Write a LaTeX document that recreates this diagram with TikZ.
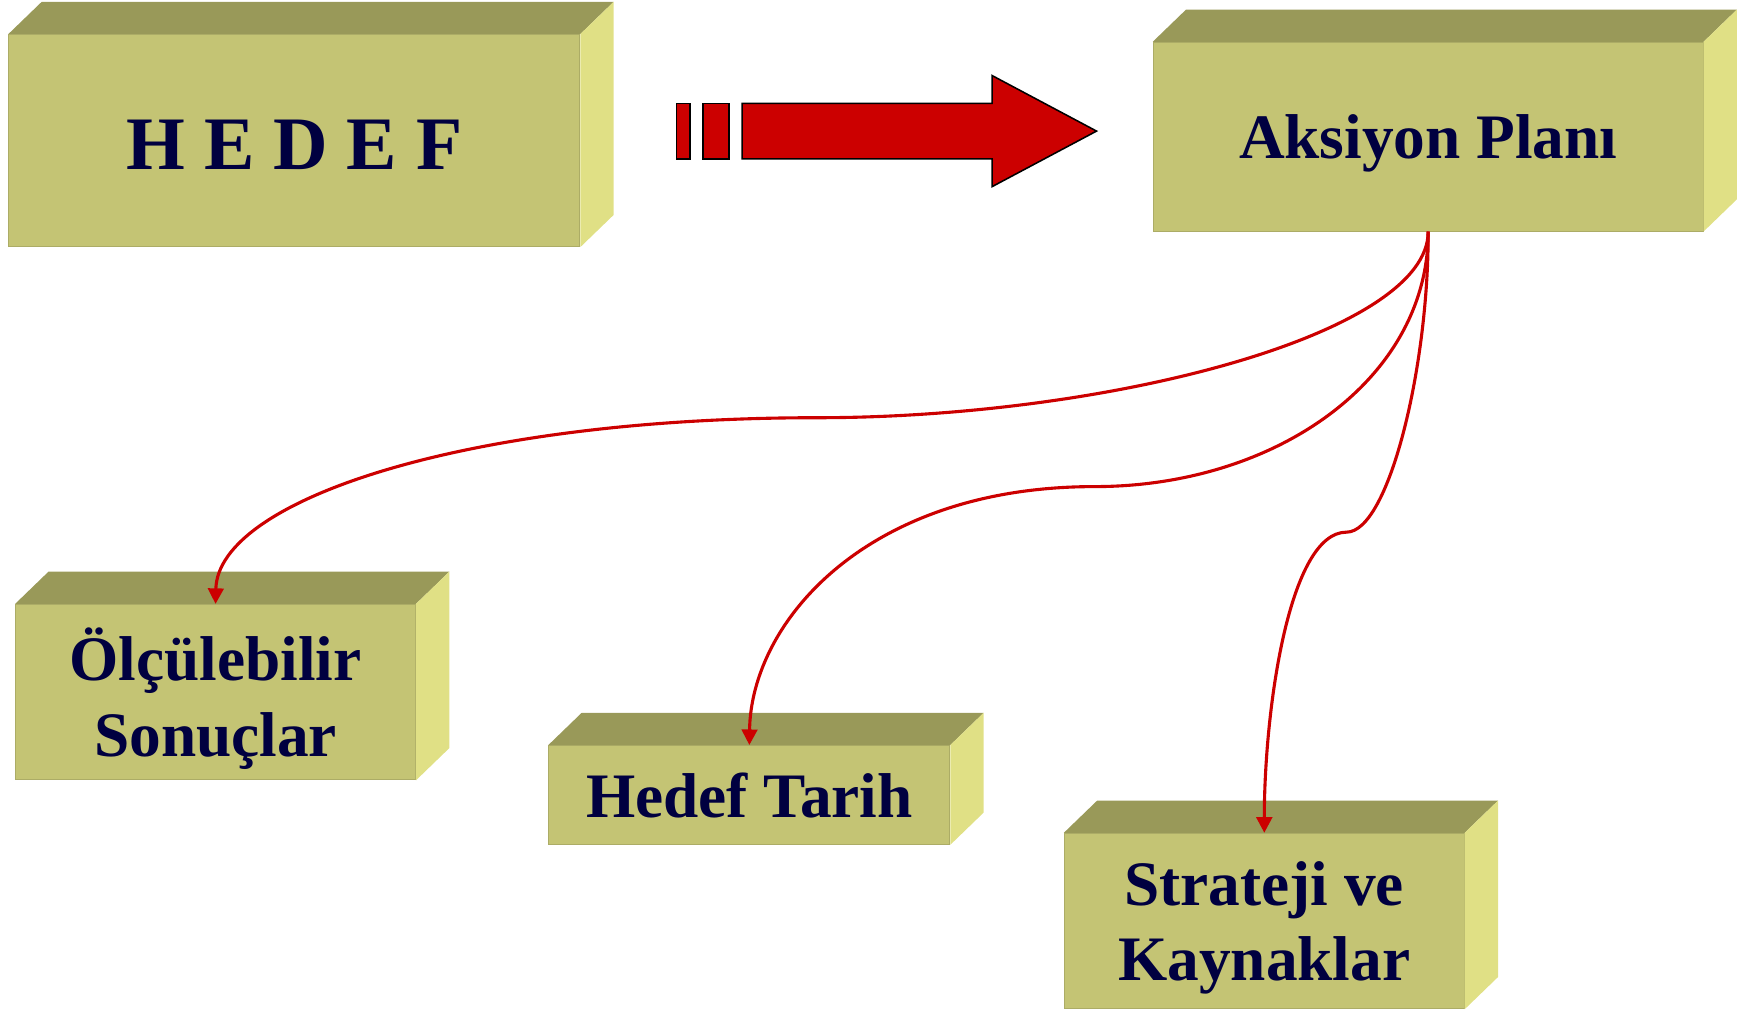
\documentclass[tikz,border=0pt]{standalone}
\usepackage{fontspec}
\setmainfont{Liberation Serif}
\usetikzlibrary{arrows.meta}
\definecolor{frontc}{RGB}{196,196,116}
\definecolor{topc}{RGB}{153,153,89}
\definecolor{sidec}{RGB}{224,224,133}
\definecolor{navy}{RGB}{0,0,64}
\definecolor{bigred}{RGB}{204,0,0}
\tikzset{
  frontbox/.style={fill=frontc, draw=frontc!88!black, line width=0.8pt, inner sep=0pt,
    text=navy, align=center, font=\bfseries\fontsize{57}{68}\selectfont},
  topface/.style={fill=topc},
  sideface/.style={fill=sidec},
  link/.style={draw=bigred, line width=2.8pt, -{Triangle[length=14pt,width=14pt]}},
  bigarrow/.style={fill=bigred, draw=black, line width=1.4pt, line join=miter}
}
\newcommand\cubefaces[1]{%
  \fill[topface] (#1.north west) -- ++(30,-29) -- ([shift={(30,-29)}]#1.north east) -- (#1.north east) -- cycle;
  \fill[sideface] (#1.north east) -- ++(30,-29) -- ([shift={(30,-29)}]#1.south east) -- (#1.south east) -- cycle;}
\begin{document}
\begin{tikzpicture}[x=1pt,y=-1pt]
\path[use as bounding box] (0,0) rectangle (1568,909);

% boxes
\node[frontbox, minimum width=514pt, minimum height=191pt, text height=53pt, text depth=0pt, font=\bfseries\fontsize{68}{80}\selectfont] (hedef) at (265,126.5) {H E D E F};
\node[frontbox, minimum width=495pt, minimum height=170pt, text depth=0pt] (aks) at (1285.5,123) {Aksiyon Planı};
\node[frontbox, minimum width=360pt, minimum height=158pt, text depth=0pt] (olc) at (194,623) {Ölçülebilir\\Sonuçlar};
\node[frontbox, minimum width=361pt, minimum height=89pt, text depth=0pt] (tar) at (674.5,715.5) {Hedef Tarih};
\node[frontbox, minimum width=360pt, minimum height=158pt, text depth=-7pt] (str) at (1138,829) {Strateji ve\\Kaynaklar};
\cubefaces{hedef}
\cubefaces{aks}
\cubefaces{olc}
\cubefaces{tar}
\cubefaces{str}

% big block arrow
\draw[bigarrow] (609,93) rectangle (621,143);
\draw[bigarrow] (633,93) rectangle (656,143);
\draw[bigarrow] (668,93) -- (893,93) -- (893,68) -- (987,118) -- (893,168) -- (893,143) -- (668,143) -- cycle;

% connectors
\draw[link] (aks.south) .. controls (1286,300) and (1000,376) .. (735,376)
  .. controls (420,376) and (196,450) .. (olc.north);
\draw[link] (aks.south) .. controls (1286,340) and (1150,438) .. (985,438)
  .. controls (780,438) and (676,560) .. (tar.north);
\draw[link] (aks.south) .. controls (1286,330) and (1250,479) .. (1212,479)
  .. controls (1160,479) and (1138,640) .. (str.north);
\end{tikzpicture}
\end{document}
